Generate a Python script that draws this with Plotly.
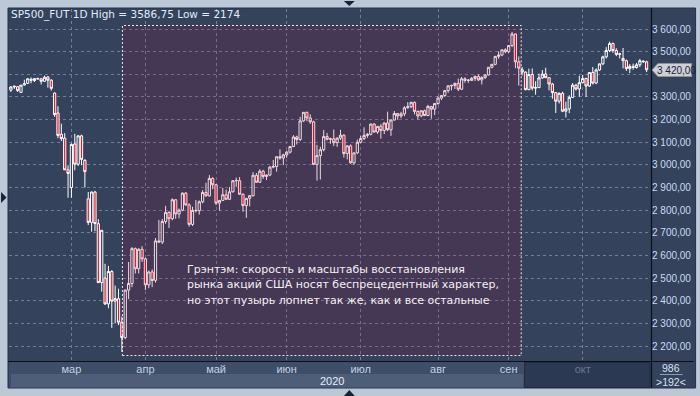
import pandas as pd
import plotly.graph_objects as go

# ---------------- data ----------------
dates = [d for d in pd.bdate_range("2020-02-05", "2020-10-28") if d != pd.Timestamp("2020-04-10")]

open_prices = [
    3330, 3344, 3345, 3320, 3353, 3360, 3378, 3372, 3381, 3380, 3369, 3388, 3374, 3317, 3229, 3135, 3118, 2978,  # feb
    2900, 3092, 3003, 3128, 3020, 2850, 2746, 2880, 2740, 2480, 2500, 2386, 2529, 2398, 2409, 2305, 2237, 2447, 2476, 2630, 2541, 2627,  # mar
    2585, 2470, 2527, 2490, 2664, 2659, 2750, 2790, 2762, 2846, 2783, 2800, 2875, 2823, 2737, 2799, 2798, 2837, 2878, 2863, 2940,  # apr
    2912, 2831, 2843, 2868, 2848, 2881, 2930, 2930, 2870, 2820, 2852, 2864, 2954, 2923, 2972, 2949, 2955, 2990, 2993, 3036, 3030,  # may
    3044, 3056, 3081, 3123, 3112, 3194, 3232, 3207, 3190, 3002, 3041, 3067, 3125, 3113, 3115, 3098, 3118, 3131, 3050, 3084, 3009, 3053,  # jun
    3100, 3116, 3130, 3135, 3180, 3145, 3170, 3152, 3185, 3155, 3198, 3227, 3216, 3225, 3252, 3257, 3276, 3236, 3216, 3239, 3218, 3258, 3246,  # jul
    3271, 3295, 3306, 3328, 3349, 3351, 3360, 3334, 3380, 3373, 3373, 3382, 3390, 3375, 3386, 3397, 3431, 3444, 3479, 3485, 3508,  # aug
    3500, 3527, 3578, 3455, 3420, 3410, 3332, 3399, 3339, 3341, 3384, 3401, 3385, 3357, 3319, 3281, 3316, 3237, 3247, 3298, 3352, 3335,  # sep
    3363, 3381, 3348, 3408, 3361, 3419, 3446, 3477, 3505, 3536, 3505, 3488, 3470, 3460, 3425, 3435, 3430, 3442, 3458, 3455,  # oct
]
high_prices = [
    3348, 3350, 3348, 3353, 3376, 3382, 3386, 3382, 3386, 3382, 3394, 3392, 3378, 3320, 3259, 3182, 3140, 2998,
    3095, 3137, 3131, 3133, 3025, 2880, 2882, 2885, 2760, 2711, 2563, 2554, 2535, 2467, 2453, 2330, 2449, 2571, 2637, 2635, 2632, 2641,
    2590, 2533, 2538, 2677, 2757, 2761, 2819, 2795, 2852, 2848, 2807, 2879, 2880, 2830, 2815, 2845, 2843, 2888, 2921, 2955, 2945,
    2915, 2844, 2898, 2891, 2902, 2932, 2944, 2946, 2874, 2853, 2865, 2968, 2964, 2980, 2978, 2957, 2995, 3022, 3036, 3069, 3049,
    3062, 3081, 3131, 3129, 3212, 3233, 3235, 3223, 3195, 3088, 3080, 3154, 3141, 3120, 3156, 3121, 3155, 3135, 3086, 3090, 3054, 3112,
    3128, 3166, 3140, 3183, 3184, 3172, 3180, 3187, 3235, 3201, 3238, 3228, 3234, 3259, 3277, 3279, 3280, 3240, 3241, 3244, 3265, 3260, 3272,
    3303, 3307, 3331, 3351, 3353, 3363, 3381, 3388, 3387, 3379, 3388, 3395, 3400, 3391, 3400, 3432, 3444, 3481, 3501, 3509, 3515,
    3528, 3587, 3580, 3479, 3432, 3412, 3425, 3426, 3369, 3403, 3419, 3429, 3386, 3362, 3320, 3320, 3323, 3279, 3307, 3361, 3358, 3394,
    3397, 3385, 3410, 3432, 3426, 3447, 3482, 3520, 3544, 3540, 3515, 3495, 3516, 3465, 3445, 3447, 3450, 3468, 3462, 3460,
]
low_prices = [
    3322, 3335, 3322, 3318, 3350, 3357, 3360, 3366, 3376, 3355, 3368, 3341, 3328, 3212, 3118, 3105, 2977, 2855,
    2855, 2976, 2995, 2999, 2900, 2734, 2705, 2707, 2478, 2440, 2381, 2367, 2280, 2300, 2292, 2174, 2230, 2407, 2460, 2520, 2520, 2571,
    2447, 2455, 2460, 2480, 2657, 2650, 2740, 2721, 2755, 2762, 2764, 2795, 2820, 2727, 2730, 2790, 2780, 2830, 2860, 2860, 2892,
    2822, 2798, 2840, 2847, 2845, 2878, 2903, 2869, 2793, 2766, 2817, 2860, 2922, 2920, 2938, 2933, 2950, 2985, 2970, 3023, 2999,
    3031, 3050, 3078, 3090, 3105, 3190, 3193, 3181, 2999, 2930, 2935, 3060, 3108, 3093, 3083, 3079, 3110, 3032, 3024, 3005, 3000, 3048,
    3095, 3110, 3120, 3130, 3143, 3137, 3116, 3136, 3149, 3128, 3195, 3199, 3206, 3215, 3248, 3250, 3223, 3200, 3210, 3216, 3215, 3204, 3220,
    3265, 3286, 3300, 3318, 3329, 3335, 3326, 3330, 3363, 3362, 3370, 3370, 3370, 3355, 3379, 3395, 3426, 3440, 3468, 3480, 3493,
    3494, 3520, 3427, 3350, 3395, 3329, 3330, 3329, 3310, 3340, 3380, 3384, 3329, 3292, 3229, 3271, 3233, 3209, 3228, 3295, 3328, 3300,
    3361, 3300, 3345, 3355, 3358, 3415, 3440, 3470, 3498, 3495, 3480, 3470, 3426, 3415, 3405, 3420, 3425, 3432, 3450, 3410,
]
close_prices = [
    3344, 3347, 3328, 3352, 3358, 3380, 3374, 3381, 3380, 3369, 3387, 3374, 3338, 3222, 3130, 3116, 2978, 2962,
    3090, 3003, 3128, 3024, 2970, 2746, 2880, 2741, 2480, 2711, 2386, 2529, 2398, 2409, 2305, 2237, 2447, 2476, 2630, 2541, 2627, 2585,
    2470, 2527, 2489, 2664, 2659, 2750, 2790, 2762, 2846, 2783, 2800, 2875, 2823, 2737, 2799, 2798, 2837, 2878, 2863, 2940, 2912,
    2831, 2843, 2868, 2848, 2881, 2930, 2931, 2870, 2820, 2852, 2864, 2954, 2923, 2972, 2949, 2955, 2990, 2993, 3036, 3030, 3044,
    3056, 3081, 3123, 3112, 3194, 3232, 3207, 3190, 3002, 3041, 3067, 3125, 3113, 3115, 3098, 3118, 3131, 3050, 3084, 3009, 3053, 3100,
    3116, 3130, 3135, 3180, 3145, 3170, 3152, 3185, 3155, 3198, 3227, 3216, 3225, 3252, 3257, 3276, 3236, 3216, 3239, 3218, 3258, 3246, 3271,
    3295, 3306, 3328, 3349, 3351, 3360, 3334, 3380, 3373, 3374, 3382, 3390, 3375, 3386, 3397, 3431, 3444, 3479, 3485, 3508, 3500,
    3527, 3578, 3455, 3427, 3410, 3332, 3399, 3339, 3341, 3384, 3401, 3385, 3357, 3319, 3281, 3316, 3237, 3247, 3298, 3352, 3335, 3363,
    3381, 3348, 3408, 3361, 3419, 3446, 3477, 3505, 3536, 3505, 3488, 3490, 3460, 3425, 3435, 3430, 3442, 3460, 3456, 3420,
]

month_names = ["мар", "апр", "май", "июн", "июл", "авг", "сен", "окт"]
year_label = "2020"
y_ticks = [2200, 2300, 2400, 2500, 2600, 2700, 2800, 2900, 3000, 3100, 3200, 3300, 3400, 3500, 3600]
header_text = "SP500_FUT 1D High = 3586,75 Low = 2174"
note_lines = [
    "Грэнтэм: скорость и масштабы восстановления",
    "рынка акций США носят беспрецедентный характер,",
    "но этот пузырь лопнет так же, как и все остальные",
]
last_price = 3420
bar_count_label = "986"
bar_range_label = ">192<"

assert len(dates) == len(open_prices) == len(high_prices) == len(low_prices) == len(close_prices)


def fmt_price(v):
    return f"{v:,.2f}".replace(",", " ").replace(".", ",")


# ---------------- figure ----------------
idx = list(range(len(dates)))
month_start = [i for i in idx if i > 0 and dates[i].month != dates[i - 1].month]
ticktext = month_names[:-1] + ["<span style='color:#6b7890'>" + month_names[-1] + "</span>"]
# the last-price tag hides the tick label right under it
y_ticktext = ["" if abs(v - last_price) < 40 else fmt_price(v) for v in y_ticks]

W, H = 700, 396
ML, MR, MT, MB = 9, 43, 9, 35
PW, PH = W - ML - MR, H - MT - MB
FONT = "Liberation Sans, Arial, sans-serif"
UIFONT = "DejaVu Sans, Verdana, sans-serif"


def fx(px):
    return (px - ML) / PW


def fy(py):
    return (H - MB - py) / PH


BG = "#34425c"

fig = go.Figure()
fig.add_trace(go.Candlestick(
    x=idx, open=open_prices, high=high_prices, low=low_prices, close=close_prices,
    increasing=dict(line=dict(color="#ffffff", width=1), fillcolor=BG),
    decreasing=dict(line=dict(color="#ffffff", width=1), fillcolor="#e3172a"),
    whiskerwidth=0,
    text=[d.strftime("%d.%m.%Y") for d in dates],
    showlegend=False,
))

shapes = []
# dark panel
shapes.append(dict(type="rect", xref="paper", yref="paper", layer="below",
                   x0=fx(8), x1=fx(702), y0=fy(388), y1=fy(8),
                   fillcolor=BG, line=dict(color="#223049", width=1)))
# month band
shapes.append(dict(type="rect", xref="paper", yref="paper", layer="below",
                   x0=fx(9), x1=fx(657), y0=fy(388), y1=fy(361),
                   fillcolor="#3e4d68", line=dict(width=0)))
# year band
shapes.append(dict(type="rect", xref="paper", yref="paper", layer="below",
                   x0=fx(11), x1=fx(528), y0=fy(387), y1=fy(374),
                   fillcolor="#4e5e79", line=dict(width=0)))
# future (october) block
shapes.append(dict(type="rect", xref="paper", yref="paper", layer="below",
                   x0=fx(529.5), x1=fx(656), y0=fy(387.5), y1=fy(362.5),
                   fillcolor="#2c3952", line=dict(color="#1f2a3d", width=1)))
# black axis lines
shapes.append(dict(type="line", xref="paper", yref="paper", layer="above",
                   x0=fx(8), x1=fx(700), y0=fy(361.5), y1=fy(361.5),
                   line=dict(color="#0c1018", width=1.2)))
shapes.append(dict(type="line", xref="paper", yref="paper", layer="above",
                   x0=fx(657.5), x1=fx(657.5), y0=fy(388), y1=fy(8),
                   line=dict(color="#0c1018", width=1.2)))
# highlighted period overlay
shapes.append(dict(type="rect", xref="paper", yref="paper", layer="above",
                   x0=fx(123.5), x1=fx(526), y0=fy(355.5), y1=fy(25.5),
                   fillcolor="rgba(165,0,40,0.15)",
                   line=dict(color="rgba(255,255,255,0.9)", width=1, dash="2px,2px")))
# last price tag
tag_y = 70
shapes.append(dict(type="path", xref="paper", yref="paper", layer="above",
                   path=("M {a},{b} L {c},{d} L {e},{d} L {e},{f} L {c},{f} Z").format(
                       a=fx(658), b=fy(tag_y), c=fx(664), d=fy(tag_y - 6.5),
                       e=fx(698), f=fy(tag_y + 6.5)),
                   fillcolor="#cdd1d6", line=dict(color="#8c939c", width=1)))
# bottom right counter box separator
shapes.append(dict(type="line", xref="paper", yref="paper", layer="above",
                   x0=fx(666), x1=fx(689), y0=fy(374.5), y1=fy(374.5),
                   line=dict(color="#8f9bb0", width=1)))
# decorative triangles
tri_col = "#17213a"
shapes.append(dict(type="path", xref="paper", yref="paper", layer="above",
                   path="M {},{} L {},{} L {},{} Z".format(fx(347), fy(1), fx(358), fy(1), fx(352.5), fy(6)),
                   fillcolor=tri_col, line=dict(width=0)))
shapes.append(dict(type="path", xref="paper", yref="paper", layer="above",
                   path="M {},{} L {},{} L {},{} Z".format(fx(347), fy(396), fx(358), fy(396), fx(352.5), fy(390)),
                   fillcolor=tri_col, line=dict(width=0)))
shapes.append(dict(type="path", xref="paper", yref="paper", layer="above",
                   path="M {},{} L {},{} L {},{} Z".format(fx(1), fy(192), fx(1), fy(203), fx(6.5), fy(197.5)),
                   fillcolor=tri_col, line=dict(width=0)))

annotations = [
    dict(xref="paper", yref="paper", x=fx(9), y=fy(14.5), xanchor="left", yanchor="middle",
         text=header_text, showarrow=False, font=dict(family=UIFONT, size=10.5, color="#e2ecf8")),
    dict(xref="paper", yref="paper", x=fx(335), y=fy(381), xanchor="center", yanchor="middle",
         text=year_label, showarrow=False, font=dict(family=FONT, size=11, color="#e6eef8")),
    dict(xref="paper", yref="paper", x=fx(661), y=fy(tag_y), xanchor="left", yanchor="middle",
         text=fmt_price(last_price), showarrow=False,
         font=dict(family=FONT, size=10, color="#17223a")),
    dict(xref="paper", yref="paper", x=fx(677.5), y=fy(367.5), xanchor="center", yanchor="middle",
         text=bar_count_label, showarrow=False, font=dict(family=FONT, size=10.5, color="#d6e2f2")),
    dict(xref="paper", yref="paper", x=fx(677.5), y=fy(382), xanchor="center", yanchor="middle",
         text=bar_range_label, showarrow=False, font=dict(family=FONT, size=10.5, color="#d6e2f2")),
]
for k, line in enumerate(note_lines):
    annotations.append(dict(xref="paper", yref="paper", x=fx(187), y=fy(269 + 15.5 * k),
                            xanchor="left", yanchor="middle", text=line, showarrow=False,
                            font=dict(family=UIFONT, size=11, color="#f4f0f2")))

px_per_bar = 3.395
x0_px = 10.9
y_scale = 317 / 1400.0

fig.update_layout(
    width=W, height=H, autosize=False,
    margin=dict(l=ML, r=MR, t=MT, b=MB, pad=0),
    paper_bgcolor="#bdc8d7", plot_bgcolor=BG,
    separators=", ",
    font=dict(family=FONT, size=11),
    shapes=shapes, annotations=annotations,
    showlegend=False,
    boxgap=0.05,
    xaxis=dict(
        range=[(ML - x0_px) / px_per_bar, (ML + PW - x0_px) / px_per_bar],
        tickmode="array", tickvals=month_start, ticktext=ticktext,
        showgrid=True, gridcolor="#6f7f9b", griddash="3px,3px", gridwidth=1,
        zeroline=False, showline=False, ticks="",
        tickfont=dict(family=FONT, size=11, color="#c2d3ea"),
        rangeslider=dict(visible=False), fixedrange=True,
    ),
    yaxis=dict(
        side="right",
        range=[3600 - (H - MB - 29) / y_scale, 3600 + (29 - MT) / y_scale],
        tickmode="array", tickvals=y_ticks, ticktext=y_ticktext,
        showgrid=True, gridcolor="#6f7f9b", griddash="3px,3px", gridwidth=1,
        zeroline=False, showline=False, ticks="",
        tickfont=dict(family=FONT, size=10, color="#c8dcf4"),
        fixedrange=True,
    ),
)

fig.write_html("out.html",
               config={"displayModeBar": False},
               post_script="document.body.style.margin='0';document.body.style.padding='0';"
                           "document.body.style.overflow='hidden';")
